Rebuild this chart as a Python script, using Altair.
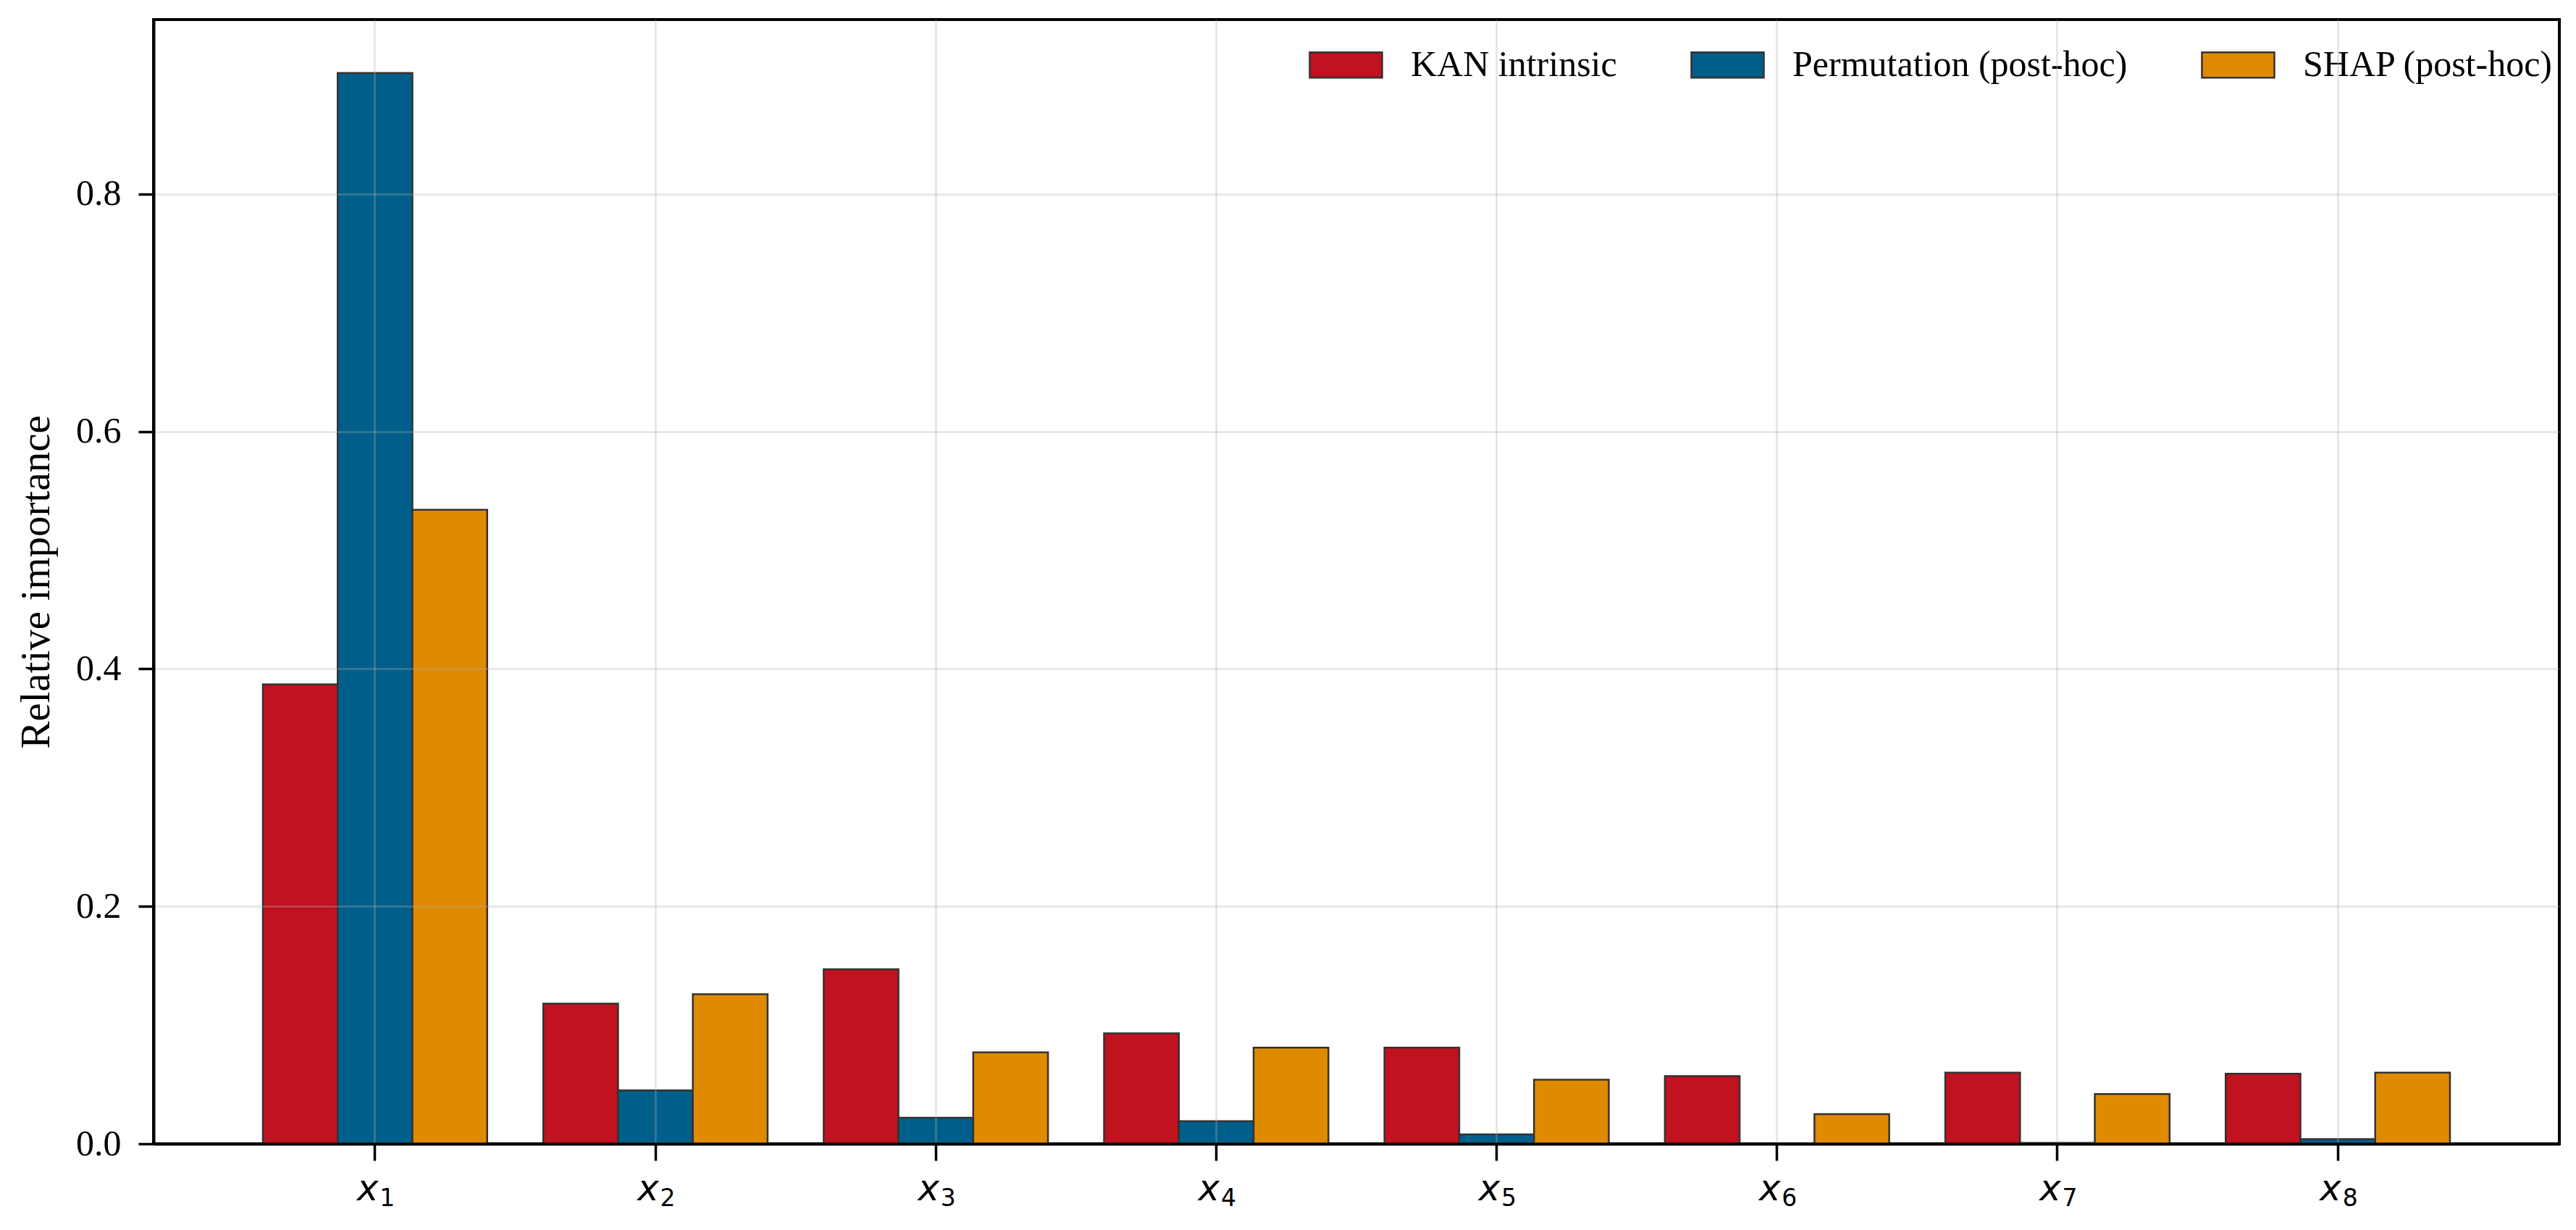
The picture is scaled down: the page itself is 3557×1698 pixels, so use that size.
import altair as alt
import pandas as pd

features = ["x1", "x2", "x3", "x4", "x5", "x6", "x7", "x8"]
feature_symbol = ["x", "x", "x", "x", "x", "x", "x", "x"]
feature_index = ["1", "2", "3", "4", "5", "6", "7", "8"]
methods = ["KAN intrinsic", "Permutation (post-hoc)", "SHAP (post-hoc)"]
kan_intrinsic = [0.387, 0.118, 0.147, 0.093, 0.081, 0.057, 0.060, 0.059]
permutation = [0.902, 0.045, 0.022, 0.019, 0.008, 0.0003, 0.0008, 0.004]
shap_vals = [0.534, 0.126, 0.077, 0.081, 0.054, 0.025, 0.042, 0.060]
colors = ["#c1121f", "#005f8a", "#e08a00"]
y_ticks = [0.0, 0.2, 0.4, 0.6, 0.8]

rows = []
for series_name, vals in zip(methods, [kan_intrinsic, permutation, shap_vals]):
    for f, v in zip(features, vals):
        rows.append({"feature": f, "method": series_name, "value": v})
df = pd.DataFrame(rows)
labels_df = pd.DataFrame({"feature": features, "sym": feature_symbol, "idx": feature_index})

W, H = 3322, 1552

x_enc = alt.X("feature:N", sort=features,
              scale=alt.Scale(paddingInner=0.2, paddingOuter=0.39),
              axis=alt.Axis(title=None, labels=False,
                            tickSize=23, tickWidth=3.5, tickColor="black",
                            bandPosition=0.5,
                            domain=True, domainColor="black", domainWidth=4,
                            grid=True, gridColor="#b0b0b0", gridOpacity=0.35, gridWidth=2.5,
                            zindex=1))

bars = alt.Chart(df).mark_bar(stroke="#333333", strokeWidth=2.5).encode(
    x=x_enc,
    xOffset=alt.XOffset("method:N", sort=methods,
                        scale=alt.Scale(paddingInner=0, paddingOuter=0)),
    y=alt.Y("value:Q",
            scale=alt.Scale(domain=[0, 0.947], nice=False, zero=True),
            axis=alt.Axis(title="Relative importance", values=y_ticks, format=".1f",
                          labelFont="Liberation Serif", labelFontSize=50, labelColor="black",
                          titleFont="Liberation Serif", titleFontSize=57, titleFontWeight="normal",
                          titleColor="black", titleX=-162, titleY=H / 2,
                          titleBaseline="middle", titleAngle=270,
                          tickSize=21, tickWidth=3.5, tickColor="black", labelPadding=24,
                          domain=True, domainColor="black", domainWidth=4,
                          grid=True, gridColor="#b0b0b0", gridOpacity=0.35, gridWidth=2.5,
                          zindex=1)),
    color=alt.Color("method:N", sort=methods,
                    scale=alt.Scale(domain=methods, range=colors),
                    legend=alt.Legend(title=None, orient="none", direction="horizontal",
                                      legendX=1595, legendY=11,
                                      symbolType="M-1,-0.35L1,-0.35L1,0.35L-1,0.35Z",
                                      symbolSize=10000, symbolStrokeColor="#333333",
                                      symbolStrokeWidth=2.5, symbolOpacity=1,
                                      labelFont="Liberation Serif", labelFontSize=50,
                                      labelColor="black", labelOffset=38,
                                      columnPadding=97, labelLimit=1000)),
)

sym_text = alt.Chart(labels_df).mark_text(
    font="DejaVu Sans", fontStyle="italic", fontSize=50, color="black",
    align="center", baseline="alphabetic", dx=-10
).encode(x=alt.X("feature:N", sort=features), y=alt.value(1630), text="sym:N")

idx_text = alt.Chart(labels_df).mark_text(
    font="DejaVu Sans", fontSize=33, color="black",
    align="center", baseline="alphabetic", dx=17
).encode(x=alt.X("feature:N", sort=features), y=alt.value(1638), text="idx:N")

chart = alt.layer(bars, sym_text, idx_text).properties(
    width=W, height=H,
    autosize=alt.AutoSizeParams(type="none"),
    padding={"left": 204, "top": 19, "right": 10, "bottom": 100},
    background="white",
).configure_view(stroke="black", strokeWidth=4)

chart.save("out.html", embed_options={"renderer": "svg", "actions": False})
